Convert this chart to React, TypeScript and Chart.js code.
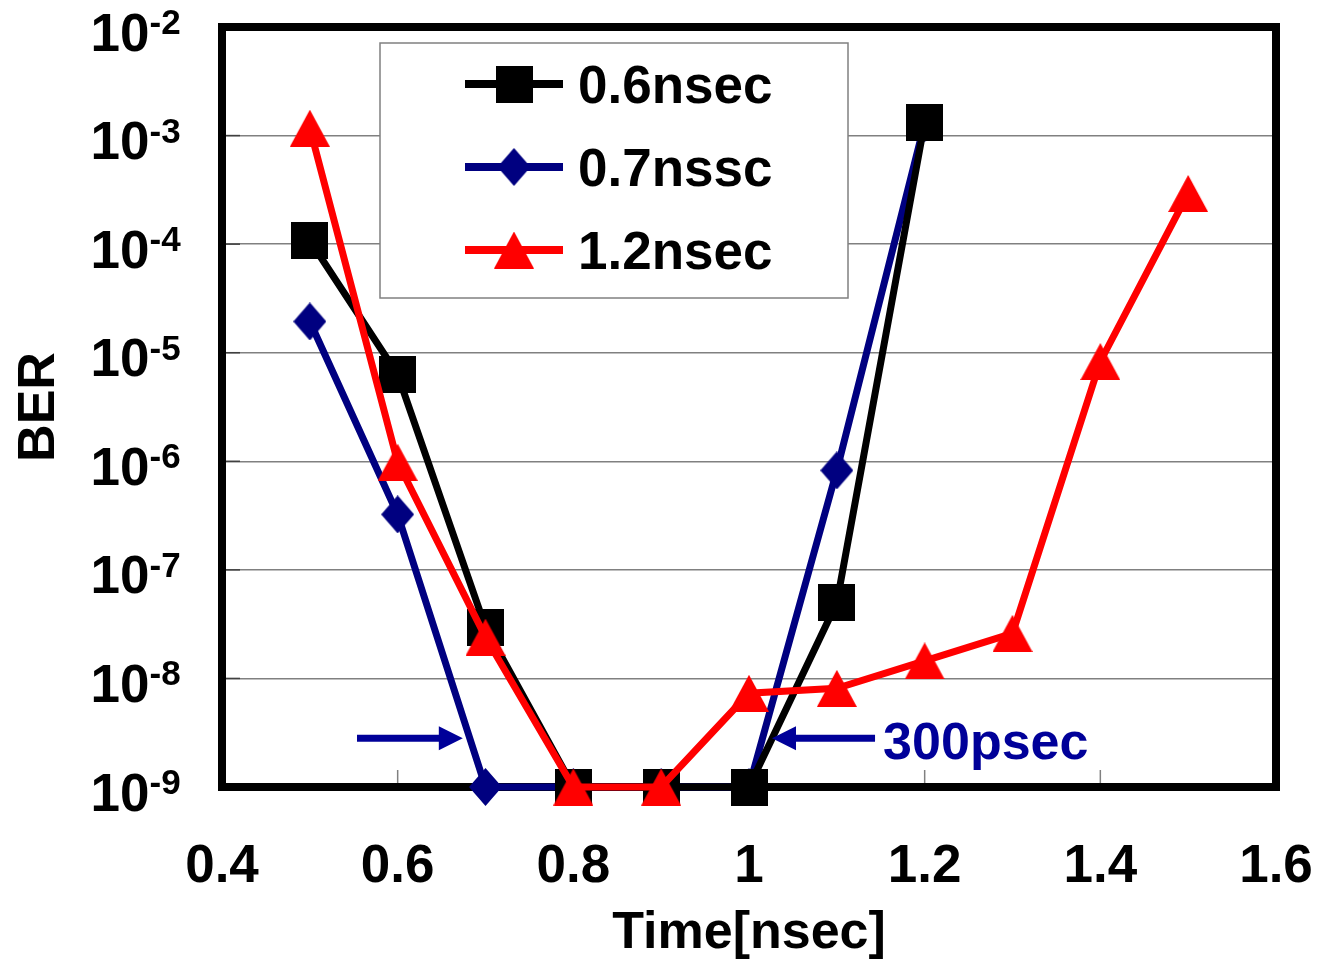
import React, { useEffect, useRef } from "react";
import { Chart, registerables } from "chart.js";

Chart.register(...registerables);

// ---------------- data ----------------
const seriesLabels = ["0.6nsec", "0.7nssc", "1.2nsec"];

const time06 = [0.5, 0.6, 0.7, 0.8, 0.9, 1.0, 1.1, 1.2];
const ber06 = [1.08e-4, 6.3e-6, 2.95e-8, 1e-9, 1e-9, 1e-9, 5.0e-8, 1.32e-3];

const time07 = [0.5, 0.6, 0.7, 0.8, 0.9, 1.0, 1.1, 1.2];
const ber07 = [1.94e-5, 3.24e-7, 1e-9, 1e-9, 1e-9, 1e-9, 8.24e-7, 1.3e-3];

const time12 = [0.5, 0.6, 0.7, 0.8, 0.9, 1.0, 1.1, 1.2, 1.3, 1.4, 1.5];
const ber12 = [1.17e-3, 9.8e-7, 2.4e-8, 1e-9, 1e-9, 7.3e-9, 8.1e-9, 1.45e-8, 2.6e-8, 8.3e-6, 2.93e-4];

const xTickValues = [0.4, 0.6, 0.8, 1.0, 1.2, 1.4, 1.6];
const xTickLabels = ["0.4", "0.6", "0.8", "1", "1.2", "1.4", "1.6"];
const yTickExponents = [-9, -8, -7, -6, -5, -4, -3, -2];

// annotation: window arrows (data units)
const arrowBer = 2.81e-9;
const leftArrowTime = [0.5537, 0.6742]; // tail, tip
const rightArrowTime = [1.1435, 1.0262]; // tail, tip
const windowLabel = "300psec";
const windowLabelTime = 1.1527;
const windowLabelBer = 1.8e-9;

// ---------------- styles ----------------
const FONT = '"Liberation Sans", Arial, Helvetica, sans-serif';
const NAVY = "#000080";
const ANNOT = "#000099";

function makeMarker(kind: string, color: string, w: number, h: number) {
  const c = document.createElement("canvas");
  c.width = w;
  c.height = h;
  const g = c.getContext("2d")!;
  g.fillStyle = color;
  g.beginPath();
  if (kind === "square") {
    g.rect(0, 0, w, h);
  } else if (kind === "diamond") {
    g.moveTo(w / 2, 0);
    g.lineTo(w, h / 2);
    g.lineTo(w / 2, h);
    g.lineTo(0, h / 2);
    g.closePath();
  } else {
    g.moveTo(w / 2, 0);
    g.lineTo(w, h);
    g.lineTo(0, h);
    g.closePath();
  }
  g.fill();
  return c;
}

function drawArrow(ctx: CanvasRenderingContext2D, x0: number, x1: number, y: number) {
  const dir = Math.sign(x1 - x0);
  const headLen = 24;
  const headHalf = 12;
  ctx.strokeStyle = ANNOT;
  ctx.fillStyle = ANNOT;
  ctx.lineWidth = 7;
  ctx.lineCap = "butt";
  ctx.beginPath();
  ctx.moveTo(x0, y);
  ctx.lineTo(x1 - dir * headLen + dir, y);
  ctx.stroke();
  ctx.beginPath();
  ctx.moveTo(x1, y);
  ctx.lineTo(x1 - dir * headLen, y - headHalf);
  ctx.lineTo(x1 - dir * headLen, y + headHalf);
  ctx.closePath();
  ctx.fill();
}

const decorPlugin = {
  id: "decor",
  beforeDatasetsDraw(chart: any) {
    const { ctx, chartArea: a, scales } = chart;
    ctx.save();
    // inner tick marks
    ctx.lineWidth = 1.5;
    ctx.strokeStyle = "#808080";
    xTickValues.forEach((v) => {
      const px = scales.x.getPixelForValue(v);
      ctx.beginPath();
      ctx.moveTo(px, a.bottom);
      ctx.lineTo(px, a.bottom - 17);
      ctx.stroke();
    });
    ctx.strokeStyle = "#404040";
    yTickExponents.forEach((e) => {
      const py = scales.y.getPixelForValue(Math.pow(10, e));
      ctx.beginPath();
      ctx.moveTo(a.left, py);
      ctx.lineTo(a.left + 18, py);
      ctx.stroke();
    });
    // plot frame
    ctx.strokeStyle = "#000";
    ctx.lineWidth = 8;
    ctx.strokeRect(a.left, a.top, a.right - a.left, a.bottom - a.top);
    ctx.restore();
  },
  afterDatasetsDraw(chart: any) {
    const { ctx, scales } = chart;
    ctx.save();
    // legend
    const bx = 380, by = 43, bw = 468, bh = 255;
    ctx.fillStyle = "#fff";
    ctx.fillRect(bx, by, bw, bh);
    ctx.strokeStyle = "#808080";
    ctx.lineWidth = 1.5;
    ctx.strokeRect(bx, by, bw, bh);
    const rows = [84, 167, 250];
    chart.data.datasets.forEach((ds: any, i: number) => {
      const y = rows[i];
      ctx.strokeStyle = ds.borderColor;
      ctx.lineWidth = 8;
      ctx.beginPath();
      ctx.moveTo(465, y);
      ctx.lineTo(563, y);
      ctx.stroke();
      const img = ds.pointStyle as HTMLCanvasElement;
      ctx.drawImage(img, 514 - img.width / 2, y - img.height / 2);
      ctx.fillStyle = "#000";
      ctx.font = `bold 53px ${FONT}`;
      ctx.textAlign = "left";
      ctx.textBaseline = "alphabetic";
      ctx.fillText(ds.label, 578, y + 19);
    });
    // 300psec window annotation
    const ay = scales.y.getPixelForValue(arrowBer);
    drawArrow(ctx, scales.x.getPixelForValue(leftArrowTime[0]), scales.x.getPixelForValue(leftArrowTime[1]), ay);
    drawArrow(ctx, scales.x.getPixelForValue(rightArrowTime[0]), scales.x.getPixelForValue(rightArrowTime[1]), ay);
    ctx.fillStyle = ANNOT;
    ctx.font = `bold 52px ${FONT}`;
    ctx.textAlign = "left";
    ctx.textBaseline = "alphabetic";
    ctx.fillText(windowLabel, scales.x.getPixelForValue(windowLabelTime), scales.y.getPixelForValue(windowLabelBer));
    ctx.restore();
  },
  afterDraw(chart: any) {
    const { ctx, scales } = chart;
    ctx.save();
    ctx.fillStyle = "#000";
    ctx.textBaseline = "alphabetic";
    yTickExponents.forEach((e) => {
      const py = scales.y.getPixelForValue(Math.pow(10, e));
      const xs = 149.5;
      ctx.font = `bold 53px ${FONT}`;
      ctx.textAlign = "right";
      ctx.fillText("10", xs, py + 23.5);
      ctx.font = `bold 35px ${FONT}`;
      ctx.textAlign = "left";
      ctx.fillText(String(e), xs, py + 7);
    });
    ctx.restore();
  },
};

export default function App() {
  const ref = useRef<HTMLCanvasElement>(null);

  useEffect(() => {
    const canvas = ref.current!;
    const square = makeMarker("square", "#000", 37, 37);
    const diamond = makeMarker("diamond", NAVY, 33, 38);
    const triangle = makeMarker("triangle", "#ff0000", 40, 37);

    const toPts = (xs: number[], ys: number[]) => xs.map((x, i) => ({ x, y: ys[i] }));

    const chart = new Chart(canvas, {
      type: "line",
      data: {
        datasets: [
          {
            label: seriesLabels[0],
            data: toPts(time06, ber06),
            borderColor: "#000",
            backgroundColor: "#000",
            borderWidth: 7,
            pointStyle: square as any,
            pointRadius: 18,
            clip: false as any,
            order: 1,
          },
          {
            label: seriesLabels[1],
            data: toPts(time07, ber07),
            borderColor: NAVY,
            backgroundColor: NAVY,
            borderWidth: 7,
            pointStyle: diamond as any,
            pointRadius: 18,
            clip: false as any,
            order: 2,
          },
          {
            label: seriesLabels[2],
            data: toPts(time12, ber12),
            borderColor: "#ff0000",
            backgroundColor: "#ff0000",
            borderWidth: 7,
            pointStyle: triangle as any,
            pointRadius: 18,
            clip: false as any,
            order: 0,
          },
        ],
      },
      options: {
        responsive: false,
        animation: false,
        events: [],
        layout: { padding: { left: 0, right: 57, top: 27, bottom: 0 } },
        plugins: {
          legend: { display: false },
          tooltip: { enabled: false },
          title: { display: false },
        },
        scales: {
          x: {
            type: "linear",
            min: 0.4,
            max: 1.6,
            afterBuildTicks: (s: any) => {
              s.ticks = xTickValues.map((v) => ({ value: v }));
            },
            afterFit: (s: any) => {
              s.height = 177;
              s.paddingLeft = 0;
              s.paddingRight = 0;
            },
            ticks: {
              autoSkip: false,
              maxRotation: 0,
              padding: 49,
              color: "#000",
              font: { family: FONT, size: 53, weight: "bold", lineHeight: 1.2 },
              callback: (_v: any, i: number) => xTickLabels[i],
            },
            grid: { display: false, drawTicks: false },
            border: { display: false },
            title: {
              display: true,
              text: "Time[nsec]",
              color: "#000",
              font: { family: FONT, size: 52, weight: "bold", lineHeight: 1 },
              padding: { top: 0, bottom: 4 },
            },
          },
          y: {
            type: "logarithmic",
            min: 1e-9,
            max: 1e-2,
            afterBuildTicks: (s: any) => {
              s.ticks = yTickExponents.map((e) => ({ value: Math.pow(10, e) }));
            },
            afterFit: (s: any) => {
              s.width = 222;
            },
            ticks: { display: false },
            grid: { color: "#808080", lineWidth: 1.5, drawTicks: false },
            border: { display: false },
            title: {
              display: true,
              text: "BER",
              color: "#000",
              font: { family: FONT, size: 52, weight: "bold", lineHeight: 1 },
              padding: { top: 14, bottom: 0 },
            },
          },
        },
      } as any,
      plugins: [decorPlugin],
    });

    return () => chart.destroy();
  }, []);

  return (
    <div style={{ position: "fixed", left: 0, top: 0, width: 1333, height: 964, background: "#fff" }}>
      <canvas ref={ref} width={1333} height={964} style={{ display: "block", width: 1333, height: 964 }} />
    </div>
  );
}
